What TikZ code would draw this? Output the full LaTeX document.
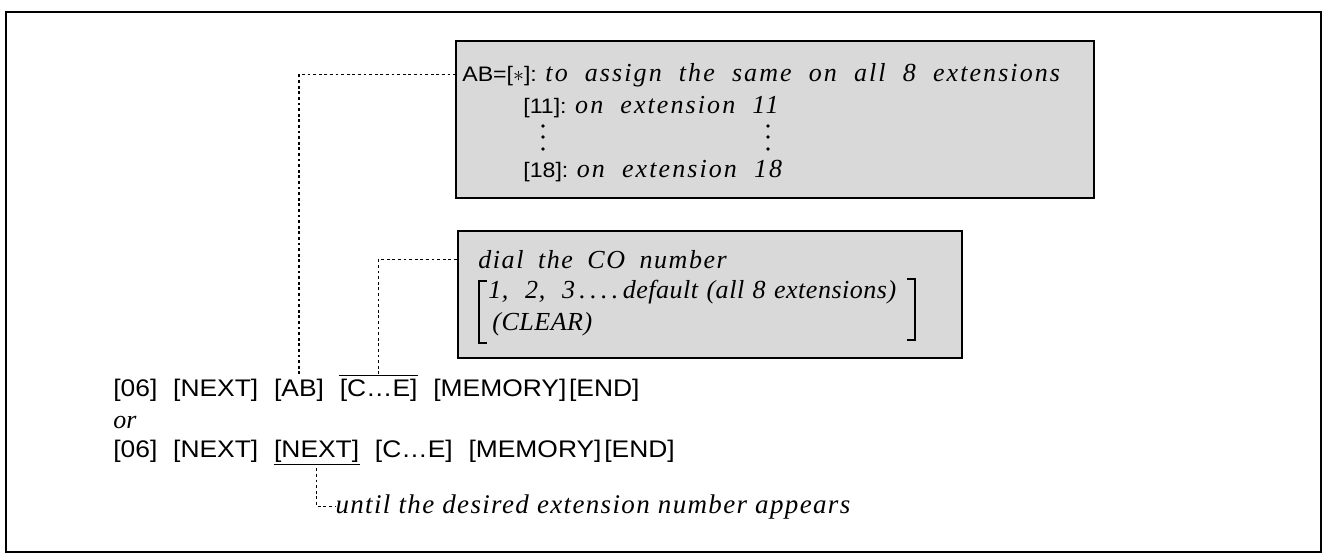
\documentclass[tikz,border=0pt]{standalone}
\usepackage{fontspec}
\setmainfont{Liberation Serif}
\setsansfont{Liberation Sans}[FakeStretch=1.1]
\newfontfamily\boxserif[LetterSpace=8,WordSpace=2]{Liberation Serif}
\newfontfamily\dialserif[LetterSpace=6,WordSpace=1.8]{Liberation Serif}
\newfontfamily\defserif[LetterSpace=2,WordSpace=1.2]{Liberation Serif}
\newfontfamily\untilserif[LetterSpace=5]{Liberation Serif}
\usetikzlibrary{positioning}

\newcommand{\keyfont}{\sffamily\fontsize{12}{14}\selectfont}
\newcommand{\smallkey}{\sffamily\fontsize{10.5}{13}\selectfont}
\newcommand{\notefont}{\itshape\fontsize{13}{16}\selectfont}
\newcommand{\boxnote}{\boxserif\itshape\fontsize{13}{16}\selectfont}

\tikzset{
  keytext/.style={inner sep=0pt, font=\keyfont},
  boxkey/.style={inner sep=0pt, anchor=base west, font=\smallkey},
  notetext/.style={inner sep=0pt, anchor=base west, font=\notefont},
  infobox/.style={draw, line width=1pt, fill=black!15, inner sep=0pt, anchor=north west},
  leader/.style={dash pattern=on 1.4pt off 1.4pt, line width=0.6pt},
}

\begin{document}
\begin{tikzpicture}[x=0.5pt,y=-0.5pt]
\useasboundingbox (0,0) rectangle (1323,554);
\draw[line width=1pt] (6,12) rectangle (1321,552);

% upper box: which extensions
\node[infobox, minimum width=319pt, minimum height=78.5pt] (box1) at (455,40) {};
\node[boxkey] (abeq) at (462,81) {AB=[$\ast$]: {\boxnote to assign the same on all 8 extensions}};
\node[boxkey] (ext11) at (523,113) {[11]: {\boxnote on extension 11}};
\node[boxkey] (ext18) at (523,177) {[18]: {\boxnote on extension 18}};
\foreach \y in {126,137,149} {
  \fill (543,\y) circle (0.9pt);
  \fill (768,\y) circle (0.9pt);
}

% lower box: CO number
\node[infobox, minimum width=252pt, minimum height=63.5pt] (box2) at (457,230) {};
\node[notetext, font=\dialserif\itshape\fontsize{13}{16}\selectfont] (dial) at (478,268) {dial the CO number};
\node[notetext, font=\defserif\itshape\fontsize{13}{16}\selectfont] (defl) at (488,298) {1,\ \ 2,\ \ 3\,.\,.\,.\,.\,default (all 8 extensions)};
\node[notetext, font=\defserif\itshape\fontsize{13}{16}\selectfont] (clear) at (492,330) {(CLEAR)};
\draw[line width=0.8pt] (487,281) -- (479,281) -- (479,343) -- (487,343);
\draw[line width=0.8pt] (907,279) -- (915,279) -- (915,340) -- (907,340);

% key sequences
\node[keytext, anchor=base west] (k06a) at (113,396) {[06]};
\node[keytext, base right=7.5pt of k06a] (nexta) {[NEXT]};
\node[keytext, base right=7.5pt of nexta] (ab) {[AB]};
\node[keytext, base right=7.5pt of ab] (ce) {[C\ldots E]};
\node[keytext, base right=7.5pt of ce] (mema) {[MEMORY]};
\node[keytext, base right=1pt of mema] (enda) {[END]};

\node[notetext] (or) at (113,428) {or};

\node[keytext, anchor=base west] (k06b) at (113,457) {[06]};
\node[keytext, base right=7.5pt of k06b] (nextb) {[NEXT]};
\node[keytext, base right=7.5pt of nextb] (nextc) {[NEXT]};
\node[keytext, base right=7.5pt of nextc] (ceb) {[C\ldots E]};
\node[keytext, base right=7.5pt of ceb] (memb) {[MEMORY]};
\node[keytext, base right=1pt of memb] (endb) {[END]};

\node[notetext, font=\untilserif\itshape\fontsize{13.5}{16}\selectfont] (until) at ([xshift=9.25pt,yshift=-28pt]nextc.base) {until the desired extension number appears};

% over- and underline
\draw[line width=0.6pt] ([yshift=1.5pt]ce.north west) -- ([yshift=1.5pt]ce.north east);
\draw[line width=0.6pt] ([yshift=-1pt]nextc.south west) -- ([yshift=-1pt]nextc.south east);

% leaders
\draw[leader] ([yshift=2pt]ab.north) |- (box1.west |- abeq.west);
\draw[leader] ([yshift=2pt]ce.north) |- (box2.west |- dial.west);
\draw[leader] ([yshift=-3pt]nextc.south) |- (until.west);
\end{tikzpicture}
\end{document}
